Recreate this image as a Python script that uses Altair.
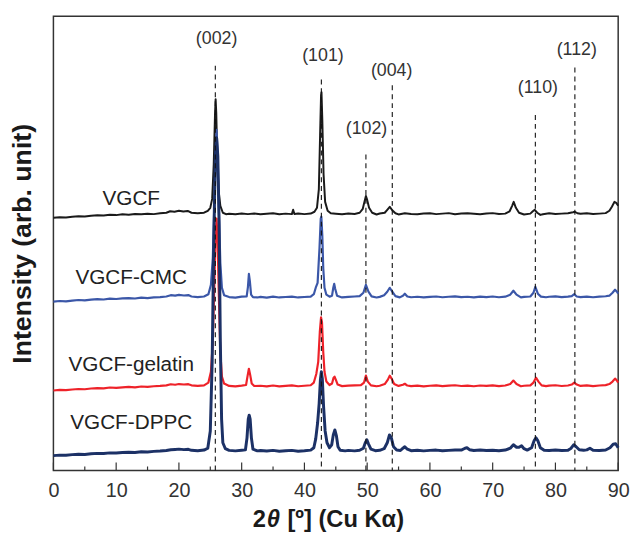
import altair as alt
import pandas as pd

# ---- data (x = 2theta in degrees, v = intensity, offset stacked) ----
vgcf = [
    (0, 256), (1, 256.5), (2, 256.2), (3, 257), (4, 257.4), (5, 257.1), (6, 258), (7, 258.4),
    (8, 258.1), (9, 258.9), (10, 258.6), (11, 259.4), (12, 259), (13, 259.8), (14, 259.4),
    (15, 260), (16, 259.6), (17, 260.4), (18, 261), (18.6, 262.5), (19.3, 262), (20, 263),
    (20.7, 262.2), (21.4, 262.8), (22, 261), (23, 260.5), (24, 261), (24.6, 263), (25.0, 266),
    (25.3, 275), (25.55, 310), (25.75, 360), (25.85, 376), (25.95, 362), (26.1, 320),
    (26.3, 285), (26.6, 268), (27.0, 261), (27.5, 259.5), (28, 260), (29, 259.5), (30, 260.2),
    (31, 259.6), (32, 260.3), (33, 259.5), (34, 260), (35, 260.5), (36, 259.4), (37, 260.1),
    (38, 259.6), (38.2, 264), (38.4, 259.8), (39, 260.3), (40, 259.6), (41, 260.2),
    (41.6, 262), (42.0, 266), (42.3, 285), (42.5, 340), (42.65, 380), (42.72, 383),
    (42.85, 355), (43.05, 300), (43.3, 272), (43.7, 263), (44.2, 260.5), (45, 260),
    (46, 259.4), (47, 260.2), (48, 259.8), (48.8, 261), (49.3, 265), (49.6, 273), (49.8, 278),
    (50.0, 274), (50.3, 266), (50.8, 261), (51.5, 259.2), (52, 260.2), (52.8, 261),
    (53.2, 264), (53.6, 267), (54.0, 263.5), (54.5, 260.5), (55, 259.3), (56, 260.4),
    (57, 259.8), (58, 259.5), (59, 260.2), (60, 260.5), (61, 259.6), (62, 260.1), (63, 260.6),
    (64, 259.5), (65, 260.2), (66, 260.4), (67, 259.9), (68, 259.5), (69, 260.2), (70, 260.6),
    (71, 259.8), (72, 260.1), (72.7, 262.5), (73.1, 268), (73.35, 272), (73.7, 266),
    (74.2, 261), (75, 259.2), (76, 260.1), (76.4, 262.5), (76.7, 264), (77.1, 261),
    (77.6, 258.8), (78, 259.5), (79, 260.4), (80, 259.8), (81, 260.1), (82, 260.5),
    (82.8, 261.5), (83.1, 262), (83.5, 260.5), (84, 259.9), (85, 260.4), (86, 259.7),
    (87, 260.1), (88, 260.6), (88.6, 263), (89.0, 267), (89.4, 272), (89.7, 271), (90, 268),
]

vgcf_cmc = [
    (0, 171), (1, 171.6), (2, 171.2), (3, 172), (4, 172.6), (5, 172.2), (6, 173), (7, 173.5),
    (8, 173.1), (9, 174), (10, 173.6), (11, 174.2), (12, 174.6), (13, 174.1), (14, 175),
    (15, 174.6), (16, 175.2), (17, 175.6), (18, 176.2), (18.7, 177.5), (19.4, 177), (20, 177.8),
    (20.8, 177.2), (21.5, 177.6), (22, 176.2), (23, 175.6), (24, 176.2), (24.7, 178.5),
    (25.1, 188), (25.4, 215), (25.65, 270), (25.85, 320), (26.0, 345), (26.15, 325),
    (26.35, 270), (26.6, 210), (26.85, 185), (27.2, 177.5), (28, 175.6), (29, 175.1),
    (30, 176), (30.8, 176.2), (31.0, 186), (31.15, 199), (31.3, 192), (31.5, 178),
    (31.8, 175.5), (32.5, 175.2), (33, 175.8), (34, 175.1), (35, 176), (36, 175.2),
    (37, 175.7), (38, 176.1), (39, 175.2), (40, 175.7), (41, 176.1), (41.5, 178.5),
    (41.85, 186), (42.1, 190), (42.4, 225), (42.6, 255), (42.7, 257), (42.85, 238),
    (43.0, 205), (43.2, 185), (43.5, 178), (44.0, 176), (44.4, 177), (44.6, 185),
    (44.75, 189), (44.9, 184), (45.2, 177), (46, 175.2), (47, 175.8), (48, 176.2),
    (48.8, 176.6), (49.4, 180), (49.8, 188), (50.2, 181), (50.7, 176.3), (51.5, 175.2),
    (52, 175.8), (52.7, 177.5), (53.2, 181), (53.6, 185), (54.0, 181), (54.5, 176.5),
    (55.2, 175.3), (55.7, 177), (56.0, 179), (56.4, 176.2), (57, 175.4), (58, 175.9),
    (59, 175.2), (60, 175.8), (61, 176.2), (62, 175.4), (63, 175.9), (64, 176.3), (65, 175.5),
    (66, 175.9), (67, 175.3), (68, 176), (69, 175.6), (70, 176.2), (71, 175.4), (72, 176),
    (72.8, 178), (73.3, 182), (73.8, 178), (74.5, 175.3), (75, 175.8), (76, 176.2),
    (76.5, 180), (76.8, 186), (77.2, 179), (77.7, 176), (78.5, 175.4), (79, 175.9),
    (80, 176.3), (81, 175.5), (82, 176), (82.6, 176.6), (83.0, 178.5), (83.4, 176.2),
    (84, 175.6), (85, 176.1), (86, 175.4), (87, 176), (88, 176.4), (88.6, 177), (89.1, 180),
    (89.5, 183), (89.8, 181), (90, 179),
]

vgcf_gelatin = [
    (0, 81), (1, 81.6), (2, 81.3), (3, 82), (4, 82.5), (5, 82.2), (6, 83), (7, 83.4),
    (8, 83.1), (9, 84), (10, 83.6), (11, 84.2), (12, 84.6), (13, 84.2), (14, 85), (15, 84.7),
    (16, 85.3), (17, 85.6), (18, 86.2), (18.7, 87.3), (19.4, 86.8), (20, 87.5), (20.8, 87),
    (21.5, 87.4), (22, 86.2), (23, 85.6), (24, 86.2), (24.7, 89), (25.1, 100), (25.4, 130),
    (25.65, 190), (25.85, 240), (26.0, 255), (26.15, 235), (26.35, 180), (26.6, 120),
    (26.85, 95), (27.2, 88), (28, 85.6), (29, 85.2), (30, 85.9), (30.7, 86.5), (30.95, 96),
    (31.15, 103), (31.35, 97), (31.6, 88), (32, 85.5), (33, 85.8), (34, 85.1), (35, 86),
    (36, 85.2), (37, 85.7), (38, 86.1), (39, 85.3), (40, 85.8), (41, 86.3), (41.5, 89),
    (41.9, 98), (42.2, 110), (42.45, 140), (42.65, 155), (42.8, 150), (43.0, 120),
    (43.2, 100), (43.5, 90), (44.0, 86.5), (44.4, 88), (44.65, 94), (44.8, 95), (45.0, 92),
    (45.3, 87), (46, 85.4), (47, 85.9), (48, 86.2), (49, 86.4), (49.5, 89), (49.8, 96),
    (50.1, 90), (50.6, 86.2), (51.5, 85.3), (52, 85.8), (52.8, 87.5), (53.3, 92), (53.6, 96),
    (53.9, 93), (54.3, 87.5), (55, 85.6), (55.7, 86.8), (56.0, 87.8), (56.4, 86), (57, 85.4),
    (58, 85.9), (59, 85.2), (60, 85.8), (61, 86.2), (62, 85.4), (63, 85.9), (64, 86.3),
    (65, 85.5), (66, 85.9), (67, 85.3), (68, 86), (69, 85.6), (70, 86.2), (71, 85.4), (72, 86),
    (72.8, 87.5), (73.3, 91), (73.8, 87.5), (74.5, 85.3), (75, 85.8), (76, 86.2), (76.5, 89),
    (76.9, 94), (77.3, 90), (77.8, 86.2), (78.5, 85.4), (79, 85.9), (80, 86.3), (81, 85.5),
    (82, 86), (82.6, 87), (83.0, 89), (83.4, 87), (84, 85.6), (85, 86.1), (86, 85.4), (87, 86),
    (88, 86.4), (88.6, 87.5), (89.1, 90), (89.5, 93), (89.8, 91), (90, 89),
]

vgcf_dppc = [
    (0, 15), (1, 15.5), (2, 15.3), (3, 16), (4, 16.4), (5, 16.2), (6, 16.9), (7, 17.3),
    (8, 17.1), (9, 17.8), (10, 17.6), (11, 18.1), (12, 18.5), (13, 18.2), (14, 18.9),
    (15, 18.7), (16, 19.3), (17, 19.6), (18, 20.2), (18.7, 21), (19.4, 21.3), (20, 21.6),
    (20.8, 21.1), (21.5, 21.4), (22, 20.4), (23, 20), (24, 20.6), (24.6, 22.5), (25.0, 40),
    (25.3, 110), (25.55, 230), (25.8, 318), (26.0, 337), (26.2, 318), (26.4, 250),
    (26.6, 130), (26.8, 52), (27.0, 28), (27.4, 22), (28, 20.3), (29, 19.8), (30, 20.4),
    (30.6, 20.8), (30.85, 33), (31.05, 52), (31.2, 56), (31.35, 52), (31.55, 33),
    (31.8, 21.5), (32.5, 19.8), (33, 20.2), (34, 19.6), (35, 20.3), (36, 19.5), (37, 19.9),
    (38, 20.3), (39, 19.5), (40, 19.9), (41, 20.6), (41.5, 23), (41.8, 32), (42.1, 48),
    (42.35, 68), (42.55, 92), (42.7, 100), (42.85, 93), (43.05, 65), (43.3, 40), (43.6, 28),
    (44.0, 23), (44.35, 26), (44.6, 36), (44.85, 41), (45.1, 35), (45.35, 24), (45.7, 20.4),
    (46.5, 19.8), (47, 20.3), (48, 19.8), (48.8, 20.5), (49.4, 22.5), (49.7, 28),
    (49.95, 31), (50.2, 27), (50.6, 21.5), (51.3, 20), (52, 20.4), (52.7, 22), (53.2, 28),
    (53.55, 36), (53.85, 33), (54.2, 24), (54.7, 20.6), (55.3, 20.2), (55.7, 22.5), (56.0, 24),
    (56.4, 21.5), (57, 20), (58, 20.4), (59, 19.8), (60, 20.3), (61, 20.6), (62, 19.9),
    (63, 20.3), (64, 20.7), (65, 20.6), (65.6, 22.5), (65.9, 23), (66.3, 21), (67, 20.2),
    (68, 20.6), (69, 20.1), (70, 20.5), (71, 20), (72, 20.6), (72.8, 22.5), (73.3, 26),
    (73.8, 23.5), (74.2, 23.5), (74.6, 25), (75.0, 22), (75.5, 20.6), (76.2, 23), (76.6, 30),
    (76.9, 33), (77.2, 30), (77.6, 23), (78.2, 20.5), (79, 20.2), (80, 20.6), (81, 20.1),
    (82, 20.5), (82.5, 22.5), (82.9, 26), (83.3, 24), (83.8, 21), (84.5, 20.4), (85, 20.8),
    (85.5, 22.5), (86, 20.5), (87, 20.2), (88, 20.7), (88.7, 23), (89.2, 26.5), (89.6, 27),
    (89.9, 24), (90, 23),
]

sample_names = ["VGCF", "VGCF-CMC", "VGCF-gelatin", "VGCF-DPPC"]
sample_colors = ["#1a1a1a", "#3b57a8", "#ee2229", "#1c3166"]
sample_widths = [2.0, 2.2, 2.2, 3.0]
name_x = [12.4, 12.4, 12.4, 12.4]
name_y = [275, 195, 107, 48]

peak_labels = ["(002)", "(101)", "(102)", "(004)", "(110)", "(112)"]
peak_pos = [25.8, 42.7, 49.8, 54.0, 76.8, 83.1]
peak_line_top = [410, 396, 320, 390, 360, 408]
peak_label_x = [26.0, 42.95, 49.9, 53.9, 77.2, 83.4]
peak_label_y = [437, 420, 346, 405, 387, 426]

x_ticks_major = [0, 10, 20, 30, 40, 50, 60, 70, 80, 90]
x_ticks_minor = [5, 15, 25, 35, 45, 55, 65, 75, 85]

FONT = "Liberation Sans"

X = alt.X(
    "x:Q",
    scale=alt.Scale(domain=[0, 90], nice=False, zero=False),
    axis=alt.Axis(
        title=None, values=x_ticks_major, format="d", labelFontSize=20, labelFont=FONT,
        labelColor="#333333", ticks=False, tickSize=0, domain=False, grid=False,
        labelPadding=10, labelFlush=False,
    ),
)
Y = alt.Y(
    "v:Q",
    scale=alt.Scale(domain=[0, 460], nice=False, zero=False),
    axis=alt.Axis(
        title="Intensity (arb. unit)", labels=False, ticks=False, domain=False, grid=False,
        titleFontSize=27, titleFont=FONT, titleFontWeight="bold", titleColor="#1a1a1a",
        titleX=-31, titleY=230, titleBaseline="middle", titleAngle=270, titleAlign="center",
    ),
)

layers = []
for pts, col, w in zip([vgcf, vgcf_cmc, vgcf_gelatin, vgcf_dppc], sample_colors, sample_widths):
    df = pd.DataFrame(pts, columns=["x", "v"])
    layers.append(
        alt.Chart(df).mark_line(color=col, strokeWidth=w, strokeJoin="round").encode(x=X, y=Y)
    )

# dashed reference lines for reflections
ref_df = pd.DataFrame({"x": peak_pos, "v": peak_line_top})
layers.append(
    alt.Chart(ref_df).mark_rule(color="#111111", strokeWidth=1.1, strokeDash=[5, 4]).encode(
        x=X, y=Y, y2=alt.datum(0)
    )
)

# reflection labels
lab_df = pd.DataFrame({"x": peak_label_x, "v": peak_label_y, "t": peak_labels})
layers.append(
    alt.Chart(lab_df).mark_text(fontSize=18, font=FONT, color="#333333", baseline="middle").encode(
        x=X, y=Y, text="t:N"
    )
)

# sample labels
name_df = pd.DataFrame({"x": name_x, "v": name_y, "t": sample_names})
layers.append(
    alt.Chart(name_df).mark_text(fontSize=21, font=FONT, color="#222222", baseline="middle").encode(
        x=X, y=Y, text="t:N"
    )
)

# inward ticks
maj_df = pd.DataFrame({"x": x_ticks_major})
min_df = pd.DataFrame({"x": x_ticks_minor})
layers.append(
    alt.Chart(maj_df).mark_rule(color="#333333", strokeWidth=1.2).encode(
        x=X, y=alt.value(460), y2=alt.value(452)
    )
)
layers.append(
    alt.Chart(min_df).mark_rule(color="#333333", strokeWidth=1.2).encode(
        x=X, y=alt.value(460), y2=alt.value(456)
    )
)

# x-axis title with italic theta
dummy = alt.Data(values=[{}])
title_y = 510
layers.append(
    alt.Chart(dummy).mark_text(text="2", fontSize=24, font=FONT, fontWeight="bold",
                               align="left", baseline="middle", color="#1a1a1a").encode(
        x=alt.value(202), y=alt.value(title_y)
    )
)
layers.append(
    alt.Chart(dummy).mark_text(text="θ", fontSize=24, font=FONT, fontWeight="bold",
                               fontStyle="italic", align="left", baseline="middle",
                               color="#1a1a1a").encode(
        x=alt.value(216), y=alt.value(title_y)
    )
)
layers.append(
    alt.Chart(dummy).mark_text(text="[º] (Cu Kα)", fontSize=24, font=FONT, fontWeight="bold",
                               align="left", baseline="middle", color="#1a1a1a").encode(
        x=alt.value(237), y=alt.value(title_y)
    )
)

chart = alt.layer(*layers).properties(
    width=572,
    height=460,
    autosize=alt.AutoSizeParams(type="none"),
    padding={"left": 46, "top": 5, "right": 14, "bottom": 60},
    background="white",
).configure_view(stroke="#333333", strokeWidth=1.5)

chart.save("out.html", embed_options={"renderer": "svg", "actions": False})
